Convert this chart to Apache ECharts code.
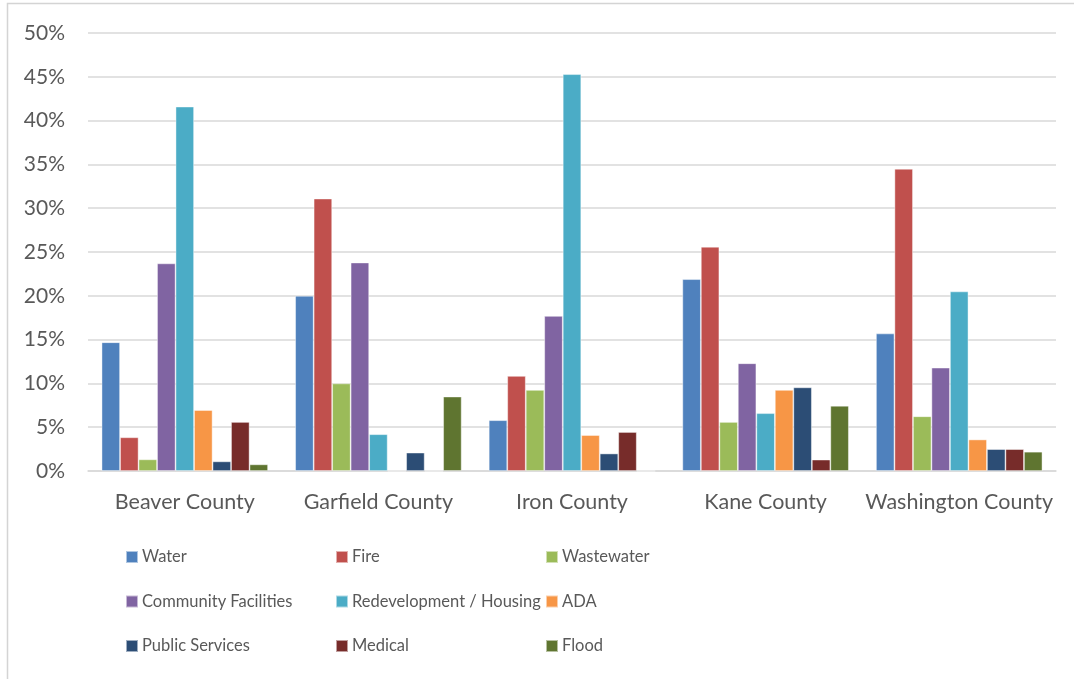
<!DOCTYPE html>
<html>
<head>
<meta charset="utf-8">
<script src="https://cdn.jsdelivr.net/npm/echarts@6/dist/echarts.min.js"></script>
<style>html,body{margin:0;padding:0;background:#fff}#c{width:1074px;height:679px}</style>
</head>
<body>
<div id="c"></div>
<script>
const categories = ['Beaver County', 'Garfield County', 'Iron County', 'Kane County', 'Washington County'];
const seriesNames = ['Water', 'Fire', 'Wastewater', 'Community Facilities', 'Redevelopment / Housing', 'ADA', 'Public Services', 'Medical', 'Flood'];
const water = [14.7, 20.0, 5.8, 21.9, 15.7];
const fire = [3.85, 31.1, 10.85, 25.6, 34.5];
const wastewater = [1.33, 10.0, 9.25, 5.6, 6.25];
const community = [23.7, 23.8, 17.7, 12.3, 11.8];
const redevelopment = [41.6, 4.2, 45.3, 6.6, 20.5];
const ada = [6.96, 0, 4.1, 9.25, 3.6];
const publicServices = [1.1, 2.1, 2.0, 9.55, 2.5];
const medical = [5.6, 0, 4.45, 1.3, 2.5];
const flood = [0.76, 8.5, 0, 7.45, 2.2];
const yTicks = [0, 5, 10, 15, 20, 25, 30, 35, 40, 45, 50];

const values = [water, fire, wastewater, community, redevelopment, ada, publicServices, medical, flood];
const colors = ['#4F81BD', '#C0504D', '#9BBB59', '#8064A2', '#4BACC6', '#F79646', '#2C4D75', '#772C2A', '#5F7530'];
const font = 'Lato';

const chart = echarts.init(document.getElementById('c'));
const legendBase = {
  orient: 'vertical', top: 547, padding: 0, itemWidth: 12, itemHeight: 12, itemGap: 24.5,
  icon: 'rect', selectedMode: false,
  textStyle: { fontFamily: font, fontSize: 16.5, color: '#595959', lineHeight: 20, padding: [0, 0, 0, -1] }
};
chart.setOption({
  animation: false,
  color: colors,
  graphic: [{
    type: 'rect', shape: { x: 7.5, y: 3.5, width: 1200, height: 800 },
    style: { fill: 'none', stroke: '#d4d4d4', lineWidth: 1.5 }, silent: true
  }],
  grid: { left: 88, right: 18, top: 33, bottom: 208 },
  legend: [
    Object.assign({ left: 125, data: [seriesNames[0], seriesNames[3], seriesNames[6]] }, legendBase),
    Object.assign({ left: 335, data: [seriesNames[1], seriesNames[4], seriesNames[7]] }, legendBase),
    Object.assign({ left: 545, data: [seriesNames[2], seriesNames[5], seriesNames[8]] }, legendBase)
  ],
  xAxis: {
    type: 'category', data: categories,
    axisLine: { lineStyle: { color: '#d9d9d9', width: 1.5 } },
    axisTick: { show: false },
    axisLabel: { interval: 0, fontFamily: font, fontSize: 21.5, color: '#595959', margin: 20 }
  },
  yAxis: {
    type: 'value', min: 0, max: 50, interval: 5,
    axisLine: { show: false }, axisTick: { show: false },
    splitLine: { lineStyle: { color: '#d9d9d9', width: 1.5 } },
    axisLabel: {
      fontFamily: font, fontSize: 21, color: '#595959', margin: 23,
      formatter: v => (yTicks.includes(v) ? v + '%' : '')
    }
  },
  series: seriesNames.map((n, i) => ({
    name: n, type: 'bar', data: values[i],
    barGap: '0%', barCategoryGap: '14%',
    itemStyle: { color: colors[i], borderColor: 'rgba(255,255,255,0.55)', borderWidth: 0.8 }
  }))
});
</script>
</body>
</html>
